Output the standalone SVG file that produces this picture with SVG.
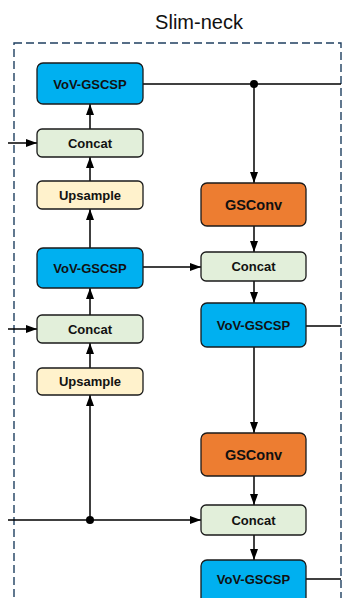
<svg xmlns="http://www.w3.org/2000/svg" width="343" height="598" viewBox="0 0 343 598">
  <defs>
    <marker id="arrow" viewBox="0 0 11 8" refX="11" refY="4" markerWidth="11" markerHeight="8" markerUnits="userSpaceOnUse" orient="auto">
      <path d="M0,0 L11,4 L0,8 Z" fill="#000"/>
    </marker>
    <style>
      .frame { fill: none; stroke: #1F3F60; stroke-width: 1.4; stroke-dasharray: 8 4; }
      .title { font-family: "Liberation Sans", Arial, sans-serif; font-size: 20px; fill: #111; }
      .box { stroke: #1a1a1a; stroke-width: 1.3; }
      .vov { fill: #00B0F0; }
      .gsc { fill: #ED7D31; }
      .cat { fill: #E2EFDA; }
      .ups { fill: #FFF2CC; }
      .lbl { font-family: "Liberation Sans", Arial, sans-serif; font-weight: bold; font-size: 13px; fill: #111; text-anchor: middle; }
      .big { font-size: 14.5px; }
      .wire { fill: none; stroke: #000; stroke-width: 1.5; }
      .arr { marker-end: url(#arrow); }
      .dot { fill: #000; }
    </style>
  </defs>

  <rect width="343" height="598" fill="#fff"/>

  <!-- module outline and title -->
  <rect class="frame" x="14" y="43" width="327" height="580"/>
  <text class="title" x="199" y="29" text-anchor="middle">Slim-neck</text>

  <!-- connectors -->
  <g id="connectors">
    <!-- top output branch -->
    <path class="wire" d="M143,84 H341"/>
    <path class="wire arr" d="M254,84 V183"/>
    <circle class="dot" cx="254" cy="84" r="4"/>
    <!-- left column, upward path -->
    <path class="wire arr" d="M8,143 H37"/>
    <path class="wire arr" d="M90,129 V104"/>
    <path class="wire arr" d="M90,181 V157"/>
    <path class="wire arr" d="M90,248 V209"/>
    <path class="wire arr" d="M8,329 H37"/>
    <path class="wire arr" d="M90,315 V288"/>
    <path class="wire arr" d="M90,368 V343"/>
    <!-- bottom input branch -->
    <path class="wire arr" d="M90,520 V395"/>
    <path class="wire arr" d="M8,520 H201"/>
    <circle class="dot" cx="90" cy="520" r="4"/>
    <!-- right column, downward path -->
    <path class="wire arr" d="M143,267 H201"/>
    <path class="wire arr" d="M254,226 V252"/>
    <path class="wire arr" d="M254,281 V303"/>
    <path class="wire" d="M306,326 H341"/>
    <path class="wire arr" d="M254,347 V433"/>
    <path class="wire arr" d="M254,476 V505"/>
    <path class="wire arr" d="M254,535 V560"/>
    <path class="wire" d="M306,579 H341"/>
  </g>

  <!-- left column -->
  <g id="vov-l1">
    <rect class="box vov" x="37" y="63" width="106" height="41" rx="6"/>
    <text class="lbl" x="90" y="88.5">VoV-GSCSP</text>
  </g>
  <g id="concat-l1">
    <rect class="box cat" x="37" y="129" width="106" height="28" rx="5"/>
    <text class="lbl" x="90" y="147.5">Concat</text>
  </g>
  <g id="upsample-l1">
    <rect class="box ups" x="37" y="181" width="106" height="28" rx="5"/>
    <text class="lbl" x="90" y="199.5">Upsample</text>
  </g>
  <g id="vov-l2">
    <rect class="box vov" x="37" y="248" width="106" height="40" rx="6"/>
    <text class="lbl" x="90" y="272.5">VoV-GSCSP</text>
  </g>
  <g id="concat-l2">
    <rect class="box cat" x="37" y="315" width="106" height="28" rx="5"/>
    <text class="lbl" x="90" y="333.5">Concat</text>
  </g>
  <g id="upsample-l2">
    <rect class="box ups" x="37" y="368" width="106" height="27" rx="5"/>
    <text class="lbl" x="90" y="386">Upsample</text>
  </g>

  <!-- right column -->
  <g id="gsconv-r1">
    <rect class="box gsc" x="201" y="183" width="105" height="43" rx="6"/>
    <text class="lbl big" x="253.5" y="209.5">GSConv</text>
  </g>
  <g id="concat-r1">
    <rect class="box cat" x="201" y="252" width="105" height="29" rx="5"/>
    <text class="lbl" x="253.5" y="271">Concat</text>
  </g>
  <g id="vov-r1">
    <rect class="box vov" x="201" y="303" width="105" height="44" rx="6"/>
    <text class="lbl" x="253.5" y="330">VoV-GSCSP</text>
  </g>
  <g id="gsconv-r2">
    <rect class="box gsc" x="201" y="433" width="105" height="43" rx="6"/>
    <text class="lbl big" x="253.5" y="459.5">GSConv</text>
  </g>
  <g id="concat-r2">
    <rect class="box cat" x="201" y="505" width="105" height="30" rx="5"/>
    <text class="lbl" x="253.5" y="524.5">Concat</text>
  </g>
  <g id="vov-r2">
    <rect class="box vov" x="201" y="560" width="105" height="44" rx="6"/>
    <text class="lbl" x="253.5" y="584">VoV-GSCSP</text>
  </g>
</svg>
